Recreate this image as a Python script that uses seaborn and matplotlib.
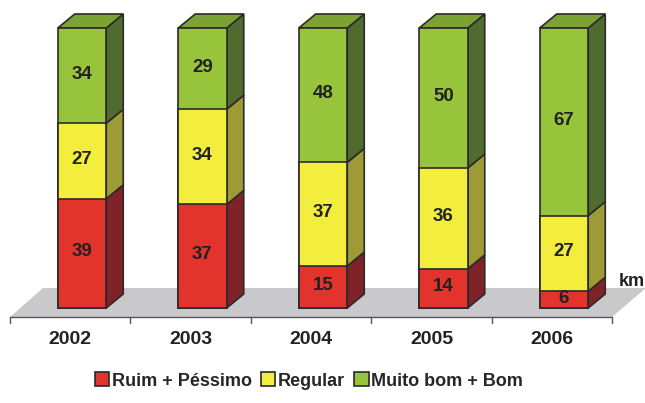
import numpy as np
import pandas as pd
import seaborn as sns
import matplotlib
matplotlib.use("Agg")
import matplotlib.pyplot as plt
from matplotlib.patches import Polygon, Patch

# ---- data ----
years = ["2002", "2003", "2004", "2005", "2006"]
ruim = [39, 37, 15, 14, 6]
regular = [27, 34, 37, 36, 27]
bom = [34, 29, 48, 50, 67]
series_names = ["Ruim + Péssimo", "Regular", "Muito bom + Bom"]
unit_label = "km"

sns.set_style("white")
plt.rcParams["font.family"] = ["Liberation Sans", "DejaVu Sans"]

front = ["#e2332d", "#f3ee3d", "#98c43b"]
side = ["#7f2328", "#9e9b36", "#4f6b2d"]
top_col = "#7ca233"
edge = "#2a2a2a"
txt = "#222222"

fig = plt.figure(figsize=(6.45, 4.03), dpi=100)
ax = fig.add_axes([0, 0, 1, 1])

# pixel helpers (layout only)
PX_X0, PX_STEP = 82.0, 120.5
PX_Y0, PX_UNIT = 308.0, 2.8
def X(px):
    return (px - PX_X0) / PX_STEP
def V(py):
    return (PX_Y0 - py) / PX_UNIT

# floor
floor = Polygon([(X(10), V(317)), (X(612), V(317)), (X(646), V(288)), (X(43), V(288))],
                closed=True, facecolor="#c9c9cb", edgecolor="none", zorder=0)
ax.add_patch(floor)

# axis line and ticks
shift = 0.1
ax.plot([X(10), X(612)], [V(317), V(317)], color="#555555", lw=1.0, zorder=1)
for i in range(len(years) + 1):
    xt = i - 0.5 - shift
    ax.plot([xt, xt], [V(317), V(323)], color="#555555", lw=1.0, zorder=1)
for i, y in enumerate(years):
    ax.text(i - shift, V(340), y, ha="center", va="center", fontsize=14,
            fontweight="bold", color=txt)
ax.text(X(619), V(281), unit_label, ha="left", va="center", fontsize=13,
        fontweight="bold", color=txt)

# stacked front faces via seaborn (cumulative totals, tallest first)
vals = np.array([ruim, regular, bom], dtype=float)
cum = np.cumsum(vals, axis=0)
width = 48.5 / PX_STEP
for k in [2, 1, 0]:
    df = pd.DataFrame({"year": years, "value": cum[k]})
    sns.barplot(data=df, x="year", y="value", color=front[k], width=width,
                edgecolor=edge, linewidth=1.2, saturation=1, ax=ax, zorder=3)

# 3D side faces and top cap
dx = 17.0 / PX_STEP
dy = 14.0 / PX_UNIT
lab_off = 1.5 / PX_UNIT
for i in range(len(years)):
    xl, xr = i - width / 2, i + width / 2
    bottoms = np.concatenate([[0], cum[:-1, i]])
    for k in range(3):
        v0, v1 = bottoms[k], cum[k, i]
        ax.add_patch(Polygon([(xr, v0), (xr + dx, v0 + dy), (xr + dx, v1 + dy), (xr, v1)],
                             closed=True, facecolor=side[k], edgecolor=edge, lw=1.2, zorder=2))
        ax.text(i, (v0 + v1) / 2 + lab_off, f"{int(vals[k, i])}", ha="center", va="center",
                fontsize=13.5, fontweight="bold", color=txt, zorder=5)
    t = cum[-1, i]
    ax.add_patch(Polygon([(xl, t), (xr, t), (xr + dx, t + dy), (xl + dx, t + dy)],
                         closed=True, facecolor=top_col, edgecolor=edge, lw=1.2, zorder=2))

ax.set_xlim(X(0), X(645))
ax.set_ylim(V(403), V(0))
ax.axis("off")

handles = [Patch(facecolor=front[k], edgecolor=edge, lw=1.2) for k in range(3)]
ax.legend(handles, series_names, loc="center", bbox_to_anchor=(309 / 645, (403 - 381) / 403),
          ncol=3, frameon=False, handlelength=0.8, handleheight=0.8,
          handletextpad=0.15, columnspacing=0.5,
          prop={"weight": "bold", "size": 13})

fig.savefig("out.png", dpi=100)
